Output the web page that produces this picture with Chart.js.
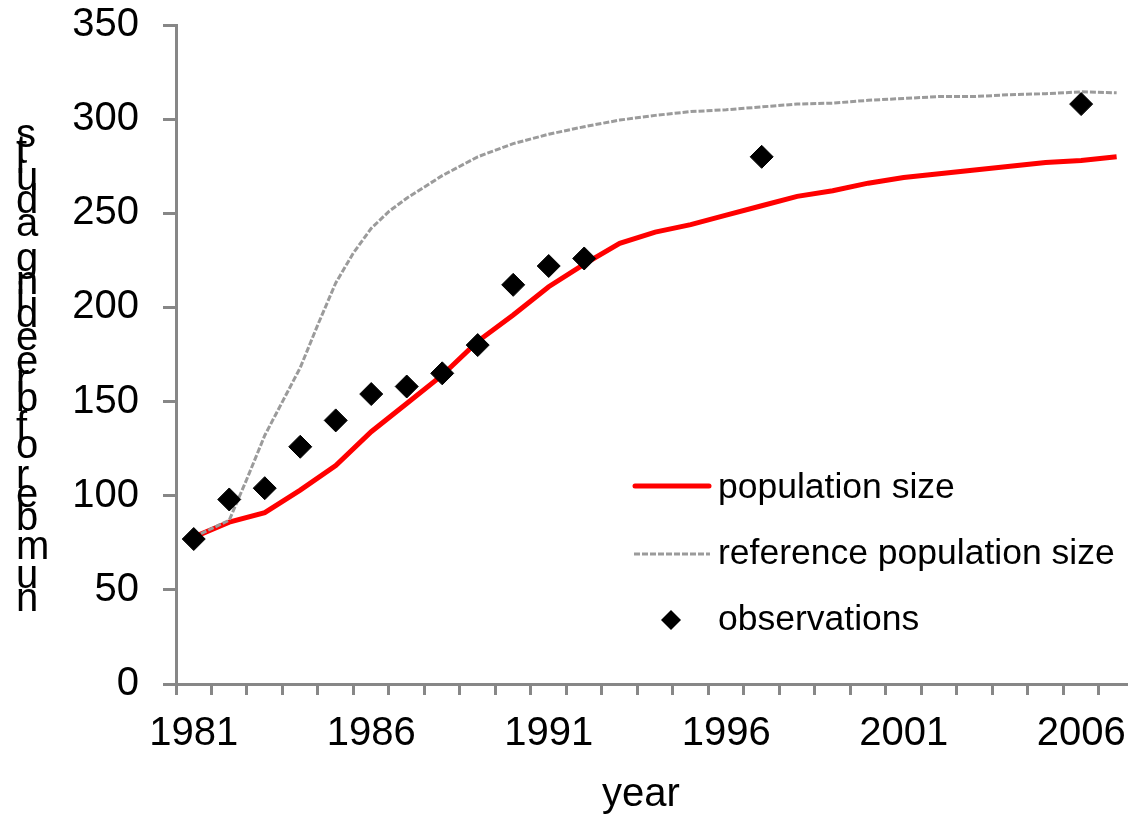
<!DOCTYPE html>
<html>
<head>
<meta charset="utf-8">
<script src="https://cdn.jsdelivr.net/npm/chart.js@4.4.1/dist/chart.umd.min.js"></script>
<style>
  html, body { margin: 0; padding: 0; background: #fff; overflow: hidden; }
  #wrap { width: 1128px; height: 819px; position: relative; }
</style>
</head>
<body>
<div id="wrap"><canvas id="chart"></canvas></div>
<script>
// ─── Data ───────────────────────────────────────────
const years = [1981, 1982, 1983, 1984, 1985, 1986, 1987, 1988, 1989, 1990, 1991, 1992, 1993, 1994,
  1995, 1996, 1997, 1998, 1999, 2000, 2001, 2002, 2003, 2004, 2005, 2006, 2007];
const popSize = [78, 86, 91, 103, 116, 134, 149, 164, 182, 196, 211, 223, 234, 240,
  244, 249, 254, 259, 262, 266, 269, 271, 273, 275, 277, 278, 280];

const refYears = [1981, 1982, 1982.5, 1983, 1983.5, 1984, 1984.5, 1985, 1985.5, 1986, 1986.5, 1987, 1988,
  1989, 1990, 1991, 1992, 1993, 1994, 1995, 1996, 1997, 1998, 1999, 2000, 2001, 2002, 2003, 2004, 2005, 2006, 2007];
const refSize = [78, 87, 109, 132, 150, 168, 191, 213, 229, 242, 251, 258, 270,
  280, 287, 292, 296, 299.5, 302, 304, 305, 306.5, 308, 308.5, 310, 311, 312, 312, 313, 313.5, 314.5, 314];

const obsYears = [1981, 1982, 1983, 1984, 1985, 1986, 1987, 1988, 1989, 1990, 1991, 1992, 1997, 2006];
const obsCounts = [77, 98, 104, 126, 140, 154, 158, 165, 180, 212, 222, 226, 280, 308];

const xLabelYears = [1981, 1986, 1991, 1996, 2001, 2006];
const yTicks = [0, 50, 100, 150, 200, 250, 300, 350];

const legendLabels = ['population size', 'reference population size', 'observations'];
const yTitle = 'number of breeding adults';
const xTitle = 'year';

// ─── Style ──────────────────────────────────────────
const RED = '#ff0000';
const GREY = '#9b9b9b';
const AXIS = '#878787';
const FONT = '"Liberation Sans", Arial, sans-serif';

const toXY = (xs, ys) => xs.map((x, i) => ({ x, y: ys[i] }));

// y title (glyphs stacked upright), x title and legend
const decorPlugin = {
  id: 'decor',
  afterDraw(chart) {
    const { ctx } = chart;
    ctx.save();
    ctx.fillStyle = '#000';
    ctx.font = `40px ${FONT}`;

    // y-axis title
    const chars = [...yTitle];
    const widths = chars.map(c => ctx.measureText(c).width);
    const total = widths.reduce((a, b) => a + b, 0);
    const yBottom = 612, yTop = 125;
    const k = (yBottom - yTop) / total;
    ctx.textAlign = 'left';
    ctx.textBaseline = 'middle';
    let pos = yBottom;
    chars.forEach((c, i) => {
      const w = widths[i] * k;
      ctx.fillText(c, 16, pos - w / 2);
      pos -= w;
    });

    // x-axis title
    ctx.textAlign = 'center';
    ctx.textBaseline = 'alphabetic';
    ctx.fillText(xTitle, 641, 806);

    // legend
    ctx.lineCap = 'round';
    ctx.strokeStyle = RED;
    ctx.lineWidth = 5;
    ctx.beginPath();
    ctx.moveTo(635, 486);
    ctx.lineTo(709, 486);
    ctx.stroke();

    ctx.lineCap = 'butt';
    ctx.strokeStyle = GREY;
    ctx.lineWidth = 3;
    ctx.setLineDash([6, 2]);
    ctx.beginPath();
    ctx.moveTo(634, 554);
    ctx.lineTo(710, 554);
    ctx.stroke();
    ctx.setLineDash([]);

    ctx.fillStyle = '#000';
    ctx.beginPath();
    ctx.moveTo(671, 610);
    ctx.lineTo(681, 620);
    ctx.lineTo(671, 630);
    ctx.lineTo(661, 620);
    ctx.closePath();
    ctx.fill();

    ctx.textAlign = 'left';
    ctx.textBaseline = 'middle';
    ctx.font = `35.5px ${FONT}`;
    ctx.fillText(legendLabels[0], 718, 488);
    ctx.fillText(legendLabels[1], 718, 554);
    ctx.fillText(legendLabels[2], 718, 620);
    ctx.restore();
  }
};

new Chart(document.getElementById('chart'), {
  type: 'line',
  data: {
    datasets: [
      {
        label: legendLabels[2],
        data: toXY(obsYears, obsCounts),
        showLine: false,
        pointStyle: 'rectRot',
        pointRadius: 11.5,
        pointBackgroundColor: '#000',
        pointBorderColor: '#000',
        pointBorderWidth: 1,
        order: 0
      },
      {
        label: legendLabels[1],
        data: toXY(refYears, refSize),
        borderColor: GREY,
        borderWidth: 3,
        borderDash: [6, 2],
        pointRadius: 0,
        tension: 0,
        order: 1
      },
      {
        label: legendLabels[0],
        data: toXY(years, popSize),
        borderColor: RED,
        borderWidth: 5,
        pointRadius: 0,
        tension: 0,
        order: 2
      }
    ]
  },
  options: {
    responsive: true,
    maintainAspectRatio: false,
    animation: false,
    layout: { autoPadding: false, padding: { top: 25, right: 0, bottom: 0, left: 0 } },
    plugins: {
      legend: { display: false },
      tooltip: { enabled: false }
    },
    scales: {
      x: {
        type: 'linear',
        min: 1980.5,
        max: 2007.32,
        afterBuildTicks: scale => {
          const t = [];
          for (let k = 0; k <= 53; k++) t.push({ value: (3961 + k) / 2 });
          scale.ticks = t;
        },
        afterFit: scale => {
          scale.height = 135;
          scale.paddingLeft = 0;
          scale.paddingRight = 0;
        },
        border: { color: AXIS, width: 3 },
        grid: {
          drawOnChartArea: false,
          drawTicks: true,
          tickLength: 11,
          lineWidth: 3,
          color: c => (c.tick && c.tick.value % 1 !== 0) ? AXIS : 'rgba(0,0,0,0)'
        },
        ticks: {
          autoSkip: false,
          maxRotation: 0,
          minRotation: 0,
          padding: 15,
          color: '#000',
          font: { family: FONT, size: 40 },
          callback: v => xLabelYears.includes(v) ? String(v) : ''
        }
      },
      y: {
        min: 0,
        max: 350,
        afterBuildTicks: scale => { scale.ticks = yTicks.map(value => ({ value })); },
        afterFit: scale => {
          scale.width = 176;
          scale.paddingTop = 0;
          scale.paddingBottom = 0;
        },
        border: { color: AXIS, width: 3 },
        grid: {
          drawOnChartArea: false,
          drawTicks: true,
          tickLength: 13,
          lineWidth: 3,
          color: AXIS
        },
        ticks: {
          padding: 24,
          color: '#000',
          font: { family: FONT, size: 40 }
        }
      }
    }
  },
  plugins: [decorPlugin]
});
</script>
</body>
</html>
